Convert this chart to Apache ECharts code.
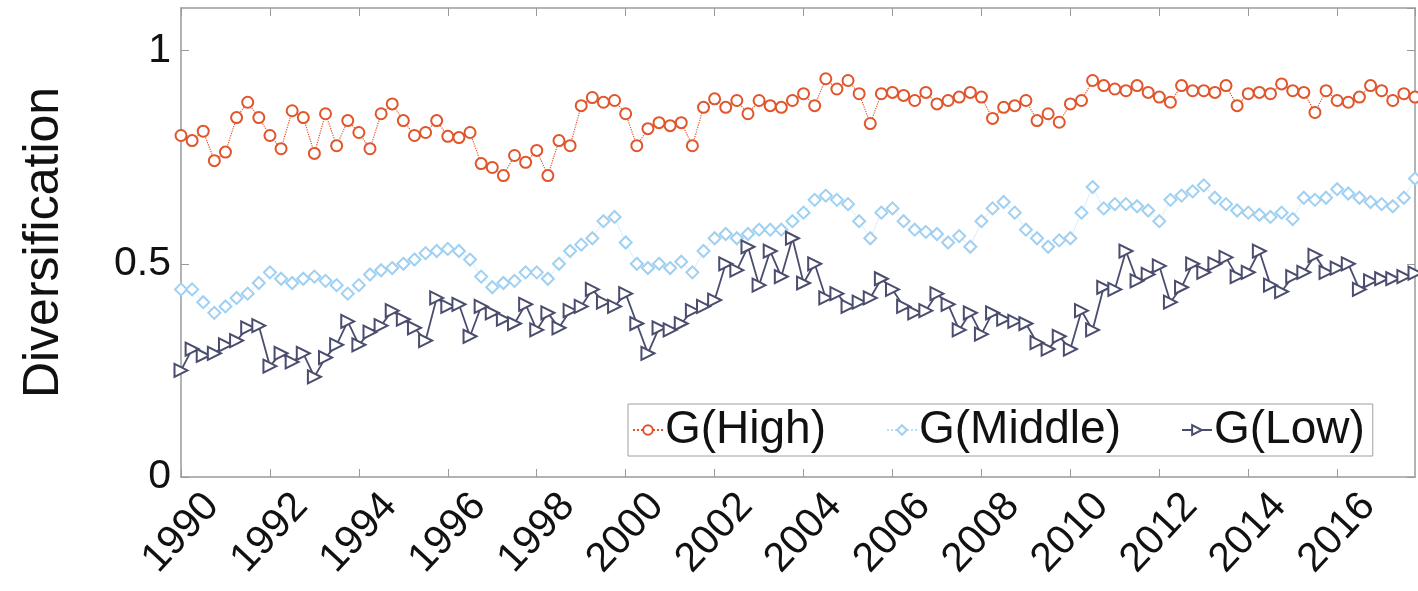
<!DOCTYPE html>
<html><head><meta charset="utf-8">
<script src="https://cdn.jsdelivr.net/npm/echarts@6/dist/echarts.min.js"></script>
<style>html,body{margin:0;padding:0;background:#fff}#c{width:1418px;height:591px}</style>
</head><body><div id="c"></div>
<script>
// Quarterly observations starting 1990 Q1
const startYear = 1990;
const quarterStep = 0.25;
const seriesNames = ['G(High)', 'G(Middle)', 'G(Low)'];
const highVals = [
0.801,0.789,0.811,0.742,0.762,0.843,0.879,0.843,0.801,0.770,
0.859,0.843,0.759,0.852,0.777,0.836,0.808,0.770,0.852,0.875,
0.836,0.801,0.808,0.836,0.799,0.796,0.808,0.735,0.726,0.707,
0.754,0.738,0.766,0.707,0.789,0.777,0.871,0.890,0.879,0.883,
0.852,0.777,0.817,0.831,0.824,0.831,0.777,0.867,0.887,0.867,
0.883,0.852,0.883,0.871,0.867,0.883,0.899,0.871,0.934,0.910,
0.930,0.899,0.829,0.899,0.902,0.895,0.883,0.902,0.875,0.883,
0.891,0.902,0.891,0.841,0.867,0.871,0.883,0.836,0.852,0.832,
0.875,0.883,0.930,0.918,0.910,0.906,0.918,0.902,0.891,0.879,
0.918,0.906,0.906,0.902,0.918,0.871,0.899,0.902,0.899,0.922,
0.906,0.902,0.855,0.906,0.883,0.879,0.891,0.918,0.906,0.883,
0.899,0.891];
const middleVals = [
0.440,0.440,0.410,0.385,0.400,0.420,0.430,0.455,0.480,0.465,
0.455,0.465,0.470,0.460,0.450,0.430,0.450,0.475,0.485,0.490,
0.500,0.510,0.525,0.530,0.535,0.530,0.510,0.470,0.445,0.455,
0.460,0.480,0.480,0.465,0.500,0.530,0.545,0.560,0.600,0.610,
0.550,0.500,0.490,0.500,0.490,0.505,0.480,0.530,0.560,0.570,
0.560,0.570,0.580,0.580,0.580,0.600,0.620,0.650,0.660,0.650,
0.640,0.600,0.560,0.620,0.630,0.600,0.580,0.575,0.570,0.550,
0.565,0.540,0.600,0.630,0.645,0.620,0.580,0.560,0.540,0.555,
0.560,0.620,0.680,0.630,0.640,0.640,0.635,0.625,0.600,0.650,
0.660,0.670,0.684,0.655,0.640,0.625,0.620,0.615,0.610,0.620,
0.605,0.655,0.650,0.655,0.675,0.665,0.655,0.645,0.640,0.635,
0.655,0.700];
const lowVals = [
0.250,0.300,0.285,0.290,0.310,0.320,0.350,0.355,0.260,0.290,
0.270,0.290,0.235,0.280,0.310,0.365,0.310,0.340,0.355,0.390,
0.370,0.350,0.320,0.420,0.400,0.405,0.330,0.400,0.385,0.370,
0.360,0.405,0.345,0.385,0.350,0.390,0.400,0.440,0.410,0.400,
0.430,0.360,0.290,0.350,0.345,0.360,0.390,0.400,0.415,0.500,
0.485,0.540,0.450,0.530,0.470,0.560,0.455,0.500,0.420,0.430,
0.400,0.410,0.420,0.465,0.440,0.400,0.385,0.390,0.430,0.405,
0.345,0.385,0.335,0.385,0.370,0.365,0.360,0.315,0.300,0.330,
0.300,0.390,0.345,0.445,0.440,0.530,0.460,0.475,0.495,0.410,
0.445,0.500,0.480,0.500,0.515,0.470,0.480,0.530,0.450,0.435,
0.470,0.480,0.520,0.480,0.490,0.500,0.440,0.460,0.465,0.465,
0.470,0.478];

const toPairs = vals => vals.map((v, i) => [startYear + i * quarterStep, v]);
const frame = '#9a9a9a';
const font = 'Liberation Sans, Arial, Helvetica, sans-serif';

const chart = echarts.init(document.getElementById('c'), null, {renderer: 'canvas'});
const xCommon = {
  type: 'value', min: 1990, max: 2017.75, interval: 2,
  splitLine: {show: false},
  axisLine: {show: true, onZero: false, lineStyle: {color: frame, width: 1.5}},
  axisTick: {show: true, inside: true, length: 8, lineStyle: {color: frame}}
};
const yCommon = {
  type: 'value', min: 0, max: 1.1, interval: 0.5,
  splitLine: {show: false},
  axisLine: {show: true, onZero: false, lineStyle: {color: frame, width: 1.5}},
  axisTick: {show: true, inside: true, length: 8, lineStyle: {color: frame}}
};
chart.setOption({
  animation: false,
  backgroundColor: '#ffffff',
  grid: {left: 181, right: 3, top: 8, bottom: 114, containLabel: false},
  xAxis: [
    Object.assign({}, xCommon, {
      position: 'bottom',
      axisLabel: {show: true, rotate: 47, align: 'center', verticalAlign: 'middle', margin: 56,
        showMaxLabel: false, color: '#111', fontSize: 41, fontFamily: font,
        formatter: v => String(v)}
    }),
    Object.assign({}, xCommon, {position: 'top', axisLabel: {show: false}})
  ],
  yAxis: [
    Object.assign({}, yCommon, {
      position: 'left',
      name: 'Diversification', nameLocation: 'middle', nameRotate: 90, nameGap: 112,
      nameTextStyle: {fontSize: 50, fontFamily: font, color: '#111'},
      axisLabel: {show: true, margin: 10, showMaxLabel: false, color: '#111', fontSize: 41, fontFamily: font,
        formatter: v => (v === 0 ? '0' : String(v))}
    }),
    Object.assign({}, yCommon, {position: 'right', axisLabel: {show: false}})
  ],
  legend: {
    show: true, left: 628, top: 404, orient: 'horizontal',
    backgroundColor: '#fff', borderColor: '#a0a0a0', borderWidth: 1,
    padding: [3, 8, 3, 4], itemGap: 60, itemWidth: 30, itemHeight: 12,
    textStyle: {fontSize: 46, fontFamily: font, color: '#111', padding: [0, 0, 0, -3]},
    data: seriesNames
  },
  series: [
    {
      name: seriesNames[0], type: 'line', data: toPairs(highVals),
      symbol: 'emptyCircle', symbolSize: 11,
      itemStyle: {color: '#e0552a', borderWidth: 1.8},
      lineStyle: {color: '#e0552a', width: 1.2, type: 'dotted'}, z: 3
    },
    {
      name: seriesNames[1], type: 'line', data: toPairs(middleVals),
      symbol: 'emptyDiamond', symbolSize: 12,
      itemStyle: {color: '#9fd0f2', borderWidth: 1.8},
      lineStyle: {color: '#b8ddf5', width: 1, type: 'dotted'}, z: 2
    },
    {
      name: seriesNames[2], type: 'line', data: toPairs(lowVals),
      symbol: 'emptyTriangle', symbolSize: 13, symbolRotate: -90,
      itemStyle: {color: '#4a4d6e', borderWidth: 1.8},
      lineStyle: {color: '#4a4d6e', width: 1.8}, z: 4
    }
  ]
});
</script></body></html>
